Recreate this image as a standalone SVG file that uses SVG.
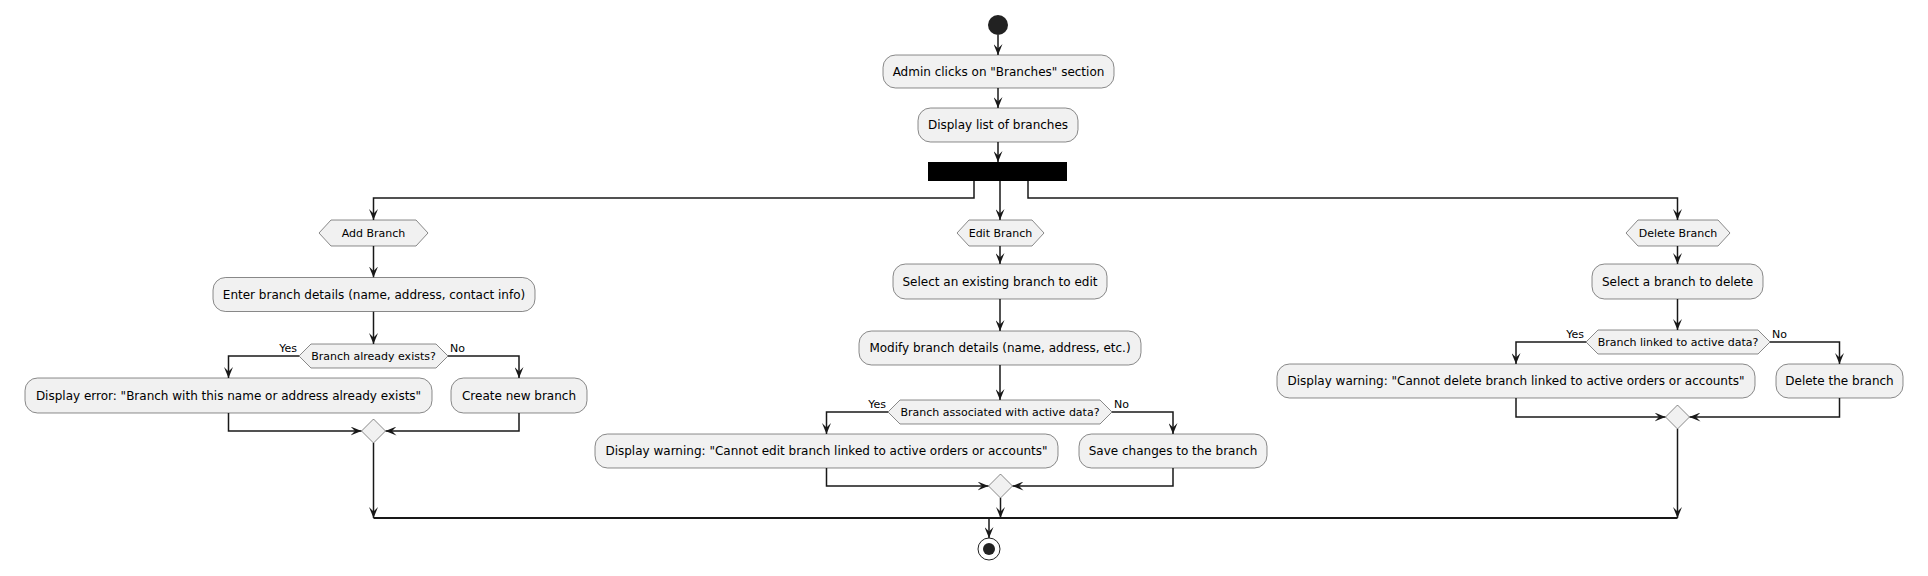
<svg xmlns="http://www.w3.org/2000/svg" width="1928" height="576" viewBox="0 0 1928 576">
<defs>
<style>
.box{fill:#F1F1F1;stroke:#181818;stroke-width:0.5}
.t{font-family:"DejaVu Sans",sans-serif;font-size:12px;fill:#000;text-anchor:middle}
.ts{font-family:"DejaVu Sans",sans-serif;font-size:11px;fill:#000;text-anchor:middle}
.lbl{font-family:"DejaVu Sans",sans-serif;font-size:11px;fill:#000}
.c{fill:none;stroke:#181818;stroke-width:1.5}
</style>
<marker id="ah" viewBox="0 0 11 9" refX="11" refY="4.5" markerWidth="11" markerHeight="9" markerUnits="userSpaceOnUse" orient="auto">
<path d="M0,0 L11,4.5 L0,9 L4.5,4.5 Z" fill="#181818"/>
</marker>
</defs>
<rect width="1928" height="576" fill="#FFFFFF"/>
<g id="connectors">
<path class="c" d="M998,35 V55" marker-end="url(#ah)"/>
<path class="c" d="M998,88 V108" marker-end="url(#ah)"/>
<path class="c" d="M998,142 V162" marker-end="url(#ah)"/>
<path class="c" d="M974,181 V198 H373.5 V220" marker-end="url(#ah)"/>
<path class="c" d="M1000,181 V220" marker-end="url(#ah)"/>
<path class="c" d="M1028,181 V198 H1677.5 V220" marker-end="url(#ah)"/>
<path class="c" d="M373.5,246 V277.5" marker-end="url(#ah)"/>
<path class="c" d="M373.5,311.5 V344" marker-end="url(#ah)"/>
<path class="c" d="M299,356 H228.5 V378" marker-end="url(#ah)"/>
<path class="c" d="M448,356 H519 V378" marker-end="url(#ah)"/>
<path class="c" d="M228.5,413 V431 H361.5" marker-end="url(#ah)"/>
<path class="c" d="M519,413 V431 H385.5" marker-end="url(#ah)"/>
<path class="c" d="M373.5,443 V518" marker-end="url(#ah)"/>
<path class="c" d="M1000,246 V264" marker-end="url(#ah)"/>
<path class="c" d="M1000,299 V331" marker-end="url(#ah)"/>
<path class="c" d="M1000,365 V400" marker-end="url(#ah)"/>
<path class="c" d="M888,412 H826.5 V434" marker-end="url(#ah)"/>
<path class="c" d="M1112,412 H1173 V434" marker-end="url(#ah)"/>
<path class="c" d="M826.5,468 V486 H988.5" marker-end="url(#ah)"/>
<path class="c" d="M1173,468 V486 H1012.5" marker-end="url(#ah)"/>
<path class="c" d="M1000.5,498 V518" marker-end="url(#ah)"/>
<path class="c" d="M1677.5,246 V264" marker-end="url(#ah)"/>
<path class="c" d="M1677.5,299 V330" marker-end="url(#ah)"/>
<path class="c" d="M1586,342 H1516 V364" marker-end="url(#ah)"/>
<path class="c" d="M1770,342 H1839.5 V364" marker-end="url(#ah)"/>
<path class="c" d="M1516,398 V417 H1665.5" marker-end="url(#ah)"/>
<path class="c" d="M1839.5,398 V417 H1689.5" marker-end="url(#ah)"/>
<path class="c" d="M1677.5,429 V518" marker-end="url(#ah)"/>
<path d="M373.5,518 H1677.5" fill="none" stroke="#181818" stroke-width="2"/>
<path class="c" d="M989,518 V538" marker-end="url(#ah)"/>
</g>
<g id="start"><circle cx="998" cy="25" r="10" fill="#222222"/></g>
<g id="admin-clicks"><rect class="box" x="883" y="55" width="231" height="33" rx="12.5"/><text class="t" x="998.5" y="76">Admin clicks on "Branches" section</text></g>
<g id="display-list"><rect class="box" x="918" y="108" width="160" height="34" rx="12.5"/><text class="t" x="998" y="129">Display list of branches</text></g>
<g id="fork"><rect x="928" y="162" width="139" height="19" fill="#000000"/></g>
<g id="add-branch"><polygon class="box" points="319,233 331,220 416,220 428,233 416,246 331,246"/><text class="ts" x="373.5" y="237">Add Branch</text></g>
<g id="enter-details"><rect class="box" x="213" y="277.5" width="322" height="34" rx="12.5"/><text class="t" x="374" y="298.5">Enter branch details (name, address, contact info)</text></g>
<g id="branch-exists"><polygon class="box" points="299,356 311,344 436,344 448,356 436,368 311,368"/><text class="ts" x="373.5" y="360">Branch already exists?</text><text class="lbl" x="297" y="352" text-anchor="end">Yes</text><text class="lbl" x="450" y="352">No</text></g>
<g id="display-error"><rect class="box" x="25" y="378" width="407" height="35" rx="12.5"/><text class="t" x="228.5" y="400">Display error: "Branch with this name or address already exists"</text></g>
<g id="create-branch"><rect class="box" x="451" y="378" width="136" height="35" rx="12.5"/><text class="t" x="519" y="400">Create new branch</text></g>
<g id="merge-add"><polygon class="box" points="373.5,419 385.5,431 373.5,443 361.5,431"/></g>
<g id="edit-branch"><polygon class="box" points="957,233 969,220 1032,220 1044,233 1032,246 969,246"/><text class="ts" x="1000.5" y="237">Edit Branch</text></g>
<g id="select-edit"><rect class="box" x="893" y="264" width="214" height="35" rx="12.5"/><text class="t" x="1000" y="286">Select an existing branch to edit</text></g>
<g id="modify-details"><rect class="box" x="859" y="331" width="282" height="34" rx="12.5"/><text class="t" x="1000" y="352">Modify branch details (name, address, etc.)</text></g>
<g id="branch-associated"><polygon class="box" points="888,412 900,400 1100,400 1112,412 1100,424 900,424"/><text class="ts" x="1000" y="416">Branch associated with active data?</text><text class="lbl" x="886" y="408" text-anchor="end">Yes</text><text class="lbl" x="1114" y="408">No</text></g>
<g id="warn-edit"><rect class="box" x="595" y="434" width="463" height="34" rx="12.5"/><text class="t" x="826.5" y="455">Display warning: "Cannot edit branch linked to active orders or accounts"</text></g>
<g id="save-changes"><rect class="box" x="1079" y="434" width="188" height="34" rx="12.5"/><text class="t" x="1173" y="455">Save changes to the branch</text></g>
<g id="merge-edit"><polygon class="box" points="1000.5,474 1012.5,486 1000.5,498 988.5,486"/></g>
<g id="delete-branch"><polygon class="box" points="1626,233 1638,220 1718,220 1730,233 1718,246 1638,246"/><text class="ts" x="1678" y="237">Delete Branch</text></g>
<g id="select-delete"><rect class="box" x="1592" y="264" width="171" height="35" rx="12.5"/><text class="t" x="1677.5" y="286">Select a branch to delete</text></g>
<g id="branch-linked"><polygon class="box" points="1586,342 1598,330 1758,330 1770,342 1758,354 1598,354"/><text class="ts" x="1678" y="346">Branch linked to active data?</text><text class="lbl" x="1584" y="338" text-anchor="end">Yes</text><text class="lbl" x="1772" y="338">No</text></g>
<g id="warn-delete"><rect class="box" x="1277" y="364" width="478" height="34" rx="12.5"/><text class="t" x="1516" y="385">Display warning: "Cannot delete branch linked to active orders or accounts"</text></g>
<g id="delete-the-branch"><rect class="box" x="1776" y="364" width="127" height="34" rx="12.5"/><text class="t" x="1839.5" y="385">Delete the branch</text></g>
<g id="merge-delete"><polygon class="box" points="1677.5,405 1689.5,417 1677.5,429 1665.5,417"/></g>
<g id="end"><circle cx="989" cy="549" r="11" fill="none" stroke="#222222" stroke-width="1"/><circle cx="989" cy="549" r="6" fill="#222222"/></g>
</svg>
